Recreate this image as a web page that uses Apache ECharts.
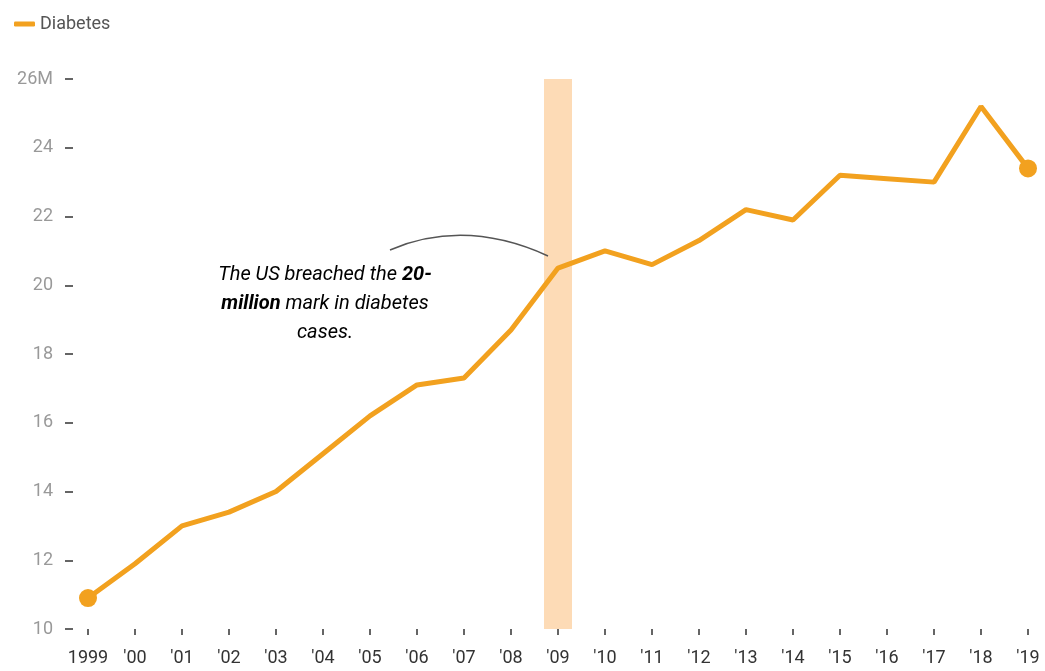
<!DOCTYPE html>
<html>
<head>
<meta charset="utf-8">
<script src="https://cdn.jsdelivr.net/npm/echarts@6/dist/echarts.min.js"></script>
<style>html,body{margin:0;padding:0;background:#fff}#c{width:1045px;height:671px}</style>
</head>
<body>
<div id="c"></div>
<script>
const categories = ["1999","'00","'01","'02","'03","'04","'05","'06","'07","'08","'09","'10","'11","'12","'13","'14","'15","'16","'17","'18","'19"];
const diabetes = [10.9, 11.9, 13.0, 13.4, 14.0, 15.1, 16.2, 17.1, 17.3, 18.7, 20.5, 21.0, 20.6, 21.3, 22.2, 21.9, 23.2, 23.1, 23.0, 25.2, 23.4];
const yTickLabels = { 26: '26M' };
const highlightYear = "'09";
const highlightTop = 26;

const lineData = diabetes.map((v, i) => (i === 0 || i === diabetes.length - 1) ? { value: v } : { value: v, symbol: 'none' });
const bandData = categories.map(c => c === highlightYear ? highlightTop : null);

const chart = echarts.init(document.getElementById('c'));
chart.setOption({
  animation: false,
  textStyle: { fontFamily: 'Roboto' },
  legend: {
    data: ['Diabetes'], left: 9, top: 10, icon: 'roundRect', itemWidth: 21, itemHeight: 5, itemGap: 8,
    textStyle: { color: '#555', fontSize: 18, fontFamily: 'Roboto' }
  },
  grid: { left: 88, right: 17, top: 79, bottom: 42, containLabel: false },
  xAxis: {
    type: 'category', data: categories, boundaryGap: false,
    axisLine: { show: false },
    axisTick: { show: true, length: 6, alignWithLabel: true, lineStyle: { color: '#333', width: 1.5 } },
    axisLabel: { color: '#333', fontSize: 18, margin: 20, interval: 0 }
  },
  yAxis: {
    type: 'value', min: 10, max: 26, interval: 2, offset: 15,
    splitLine: { show: false },
    axisLine: { show: false },
    axisTick: { show: true, length: 8, lineStyle: { color: '#333', width: 1.5 } },
    axisLabel: { color: '#999', fontSize: 18, margin: 20, formatter: v => yTickLabels[v] || String(v) }
  },
  series: [
    {
      name: 'band', type: 'bar', data: bandData, barWidth: 28, z: 1, silent: true,
      itemStyle: { color: '#fddbb6' }
    },
    {
      name: 'Diabetes', type: 'line', data: lineData, z: 3,
      symbol: 'circle', symbolSize: 18, showSymbol: true,
      lineStyle: { color: '#f2a11f', width: 5 },
      itemStyle: { color: '#f2a11f' }
    }
  ],
  graphic: [
    {
      type: 'bezierCurve', z: 10,
      shape: { x1: 390, y1: 250, cpx1: 465, cpy1: 218, x2: 548, y2: 256 },
      style: { stroke: '#555', lineWidth: 1.5, fill: null }
    },
    {
      type: 'text', z: 10, x: 325, y: 260,
      style: {
        text: '{i|The US breached the }{b|20-}\n{b|million}{i| mark in diabetes}\n{i|cases.}',
        align: 'center', verticalAlign: 'top',
        rich: {
          i: { fontStyle: 'italic', fontSize: 20, color: '#444', fontFamily: 'Roboto', lineHeight: 29 },
          b: { fontStyle: 'italic', fontWeight: 'bold', fontSize: 20, color: '#333', fontFamily: 'Roboto', lineHeight: 29 }
        }
      }
    }
  ]
});
</script>
</body>
</html>
